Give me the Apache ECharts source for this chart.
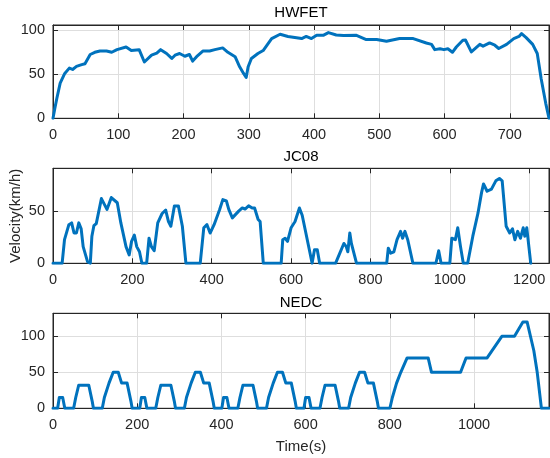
<!DOCTYPE html>
<html>
<head>
<meta charset="utf-8">
<script src="https://cdn.jsdelivr.net/npm/echarts@6/dist/echarts.min.js"></script>
<style>
html,body{margin:0;padding:0;background:#fff;}
#chart{width:550px;height:458px;}
</style>
</head>
<body>
<div id="chart"></div>
<script>
// Highway Fuel Economy Test (HWFET) speed trace
const hwfetTime = [0,3,6,11,18,25,30,36,44,49,57,64,72,82,90,98,112,120,132,140,143,151,159,165,174,182,187,194,202,209,214,220,230,240,248,260,268,279,286,292,296,299,304,314,322,335,348,360,363,381,388,396,404,414,422,434,445,465,480,496,511,531,552,572,580,585,593,599,605,612,618,628,632,641,654,659,669,677,683,695,706,714,718,725,735,742,748,755,760];
const hwfetSpeed = [0,12,23,40,51,57,55.5,59,61,62,72.5,75,76.5,76.5,75,78,81,77,78,64,64,71.7,74,78,73.6,68,71.7,73.6,70.5,72.5,65,70,76.5,76.5,78,80,75,70,58.5,51,46.4,58.5,68,73.6,77,90.6,95.5,93,93,90.6,93,90.6,94.3,94.3,97.4,94.7,94,94.3,89.5,89.5,87.5,90.6,90.6,85.6,84,78,79,78,79,75,81,88.7,89,75.5,84,82,85.6,83,79.3,84,90.6,93,96.2,91.7,84,73.6,45,17,0];

// JC08 speed trace
const jc08Time = [0,23,29,34,40,47,53,59,65,71,76,87,94,98,103,109,122,136,147,162,171,184,192,198,205,211,218,224,236,242,248,255,264,275,284,291,297,306,316,326,335,371,380,388,396,406,420,428,437,443,452,468,477,484,493,502,508,517,522,530,575,579,585,591,600,610,621,628,632,646,653,659,666,672,712,721,733,739,743,748,752,765,841,845,851,859,867,876,881,887,894,907,965,972,978,1000,1005,1014,1020,1027,1034,1045,1058,1071,1080,1085,1089,1094,1105,1116,1125,1132,1142,1151,1158,1164,1171,1178,1185,1189,1194,1204];
const jc08Speed = [0,0,22.6,24,37,38.7,29,29,38.7,33,16,1.6,0,26,36,38,62,51.6,63,58,38.7,16,8,21,27,16,11,0,0,24,16,12,38.7,47.7,51,40,35.5,55,55,35.5,0,0,34,37,29,37,51.6,61,59.7,51.6,43.5,50,53,52,55,53,53,42,40,0,0,22.6,24,21,34,40,53,46,46.8,13,0,13,13,0,0,8,19,16,11,29,19,0,0,14.5,9.7,11,22.6,30.6,24,30.6,22.6,0,0,12,0,0,24,22.6,34,16,0,0,26,48,67.7,76,76,69,71,79,81.3,79,35.5,29,33,22.6,30.6,24,34,26,34,0];

// NEDC speed trace: four urban blocks followed by the extra-urban block
const nedcTime = [0,11,15,23,28,49,54,56,61,85,93,96,117,122,124,133,135,143,155,163,176,185,188,
  206,210,218,223,244,249,251,256,280,288,291,312,317,319,328,330,338,350,358,371,380,383,
  401,405,413,418,439,444,446,451,475,483,486,507,512,514,523,525,533,545,553,566,575,578,
  596,600,608,613,634,639,641,646,670,678,681,702,707,709,718,720,728,740,748,761,770,773,
  800,806,808,816,818,826,828,841,891,899,968,981,1031,1066,1096,1116,1126,1142,1150,1160,1178];
const nedcSpeed = [0,0,15,15,0,0,15,15,32,32,10,0,0,15,15,35,35,50,50,35,35,10,0,
  0,15,15,0,0,15,15,32,32,10,0,0,15,15,35,35,50,50,35,35,10,0,
  0,15,15,0,0,15,15,32,32,10,0,0,15,15,35,35,50,50,35,35,10,0,
  0,15,15,0,0,15,15,32,32,10,0,0,15,15,35,35,50,50,35,35,10,0,
  0,15,15,35,35,50,50,70,70,50,50,70,70,100,100,120,120,80,50,0,0];

const panelTitles = ['HWFET', 'JC08', 'NEDC'];
const xMax = [760, 1250, 1178];
const xStep = [100, 200, 200];
const yMax = [106, 91, 132];
const yStep = [50, 50, 50];
const yName = 'Velocity(km/h)';
const xName = 'Time(s)';

const traces = [
  [hwfetTime, hwfetSpeed],
  [jc08Time, jc08Speed],
  [nedcTime, nedcSpeed]
];

const FONT = '"Liberation Sans", Arial, Helvetica, sans-serif';
const INK = '#262626';
const GRID_LINE = '#dedede';

const panelBoxes = [
  { top: 25, height: 93.3 },
  { top: 168.3, height: 95 },
  { top: 313.3, height: 95 }
];
const LEFT = 53, WIDTH = 496;

const grid = [], xAxis = [], yAxis = [], series = [], graphic = [];

function tickFilter(step) {
  return v => (Math.abs(v / step - Math.round(v / step)) < 1e-6 ? String(v) : '');
}

panelBoxes.forEach((box, i) => {
  grid.push({
    left: LEFT, top: box.top, width: WIDTH, height: box.height,
    containLabel: false, outerBoundsMode: 'none',
    show: true, borderColor: INK, borderWidth: 1, backgroundColor: '#fff'
  });

  // bottom x axis with labels and grid lines
  xAxis.push({
    type: 'value', gridIndex: i, min: 0, max: xMax[i], interval: xStep[i],
    position: 'bottom',
    axisLine: { show: true, onZero: false, lineStyle: { color: INK, width: 1 } },
    axisTick: { show: true, inside: true, length: 5, lineStyle: { color: INK } },
    axisLabel: { show: true, margin: 9, color: INK, fontSize: 14.5, fontFamily: FONT, formatter: tickFilter(xStep[i]) },
    splitLine: { show: true, lineStyle: { color: GRID_LINE, width: 1 } },
    name: i === 2 ? xName : '',
    nameLocation: 'middle', nameGap: 31, nameMoveOverlap: false,
    nameTextStyle: { color: INK, fontSize: 15, fontFamily: FONT }
  });
  // top mirror axis: ticks only
  xAxis.push({
    type: 'value', gridIndex: i, min: 0, max: xMax[i], interval: xStep[i],
    position: 'top',
    axisLine: { show: true, onZero: false, lineStyle: { color: INK, width: 1 } },
    axisTick: { show: true, inside: true, length: 5, lineStyle: { color: INK } },
    axisLabel: { show: false },
    splitLine: { show: false }
  });

  yAxis.push({
    type: 'value', gridIndex: i, min: 0, max: yMax[i], interval: yStep[i],
    position: 'left',
    axisLine: { show: true, onZero: false, lineStyle: { color: INK, width: 1 } },
    axisTick: { show: true, inside: true, length: 5, lineStyle: { color: INK } },
    axisLabel: { show: true, margin: 8, color: INK, fontSize: 14.5, fontFamily: FONT, formatter: tickFilter(yStep[i]) },
    splitLine: { show: true, lineStyle: { color: GRID_LINE, width: 1 } },
    name: i === 1 ? yName : '',
    nameLocation: 'middle', nameGap: 30, nameRotate: 90, nameMoveOverlap: false,
    nameTextStyle: { color: INK, fontSize: 15, fontFamily: FONT }
  });
  yAxis.push({
    type: 'value', gridIndex: i, min: 0, max: yMax[i], interval: yStep[i],
    position: 'right',
    axisLine: { show: true, onZero: false, lineStyle: { color: INK, width: 1 } },
    axisTick: { show: true, inside: true, length: 5, lineStyle: { color: INK } },
    axisLabel: { show: false },
    splitLine: { show: false }
  });

  const [ts, vs] = traces[i];
  series.push({
    type: 'line',
    xAxisIndex: 2 * i, yAxisIndex: 2 * i,
    data: ts.map((t, k) => [t, vs[k]]),
    showSymbol: false, symbol: 'none', smooth: false,
    lineStyle: { color: '#0072BD', width: 3, join: 'round', cap: 'round' },
    clip: true, animation: false, z: 3
  });

  graphic.push({
    type: 'text',
    x: LEFT + WIDTH / 2,
    y: [13, 157, 302.5][i],
    style: {
      text: panelTitles[i], fill: '#000', fontSize: 15, fontFamily: FONT,
      align: 'center', verticalAlign: 'middle'
    }
  });
});

const chart = echarts.init(document.getElementById('chart'), null, { renderer: 'canvas' });
chart.setOption({
  backgroundColor: '#fff',
  animation: false,
  grid, xAxis, yAxis, series, graphic
});
</script>
</body>
</html>
